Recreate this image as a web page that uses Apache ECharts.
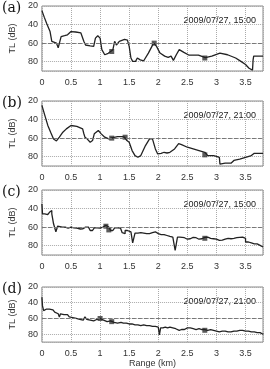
<!DOCTYPE html>
<html>
<head>
<meta charset="utf-8">
<script src="https://cdn.jsdelivr.net/npm/echarts@6/dist/echarts.min.js"></script>
<style>
html,body{margin:0;padding:0;background:#fff;}
#chart{width:270px;height:369px;}
</style>
</head>
<body>
<div id="chart"></div>
<script>
// 数据: [距离 km, TL dB]
var panelLabels = ['(a)', '(b)', '(c)', '(d)'];
var dateLabels = ['2009/07/27, 15:00', '2009/07/27, 21:00', '2009/07/27, 15:00', '2009/07/27, 21:00'];
var xTicks = [0, 0.5, 1, 1.5, 2, 2.5, 3, 3.5];
var yTicks = [20, 40, 60, 80];

var tlA = [[0,25],[0.04,32],[0.08,38.6],[0.14,47.5],[0.17,58],[0.19,60],[0.25,60],[0.28,65],[0.31,63.5],[0.33,53],[0.39,52],[0.44,51],[0.5,47.5],[0.58,48],[0.67,49],[0.69,51],[0.72,58],[0.75,62],[0.83,63],[0.89,63.5],[0.92,54.6],[0.96,52],[1.0,54.6],[1.03,67],[1.08,72.5],[1.14,71],[1.18,69],[1.22,67],[1.25,58],[1.28,62],[1.33,58],[1.42,56],[1.47,56.8],[1.5,63.5],[1.53,76],[1.56,79.6],[1.61,79.6],[1.64,76],[1.69,78],[1.75,79],[1.83,70.7],[1.92,60],[1.97,63.5],[2.03,70.7],[2.11,74],[2.17,75.4],[2.22,74],[2.26,78.6],[2.31,72.5],[2.36,67],[2.44,70],[2.53,73],[2.69,73],[2.81,75.7],[2.92,74],[3.06,70.7],[3.19,72.5],[3.33,76],[3.42,79.6],[3.5,83],[3.56,87],[3.58,89],[3.62,89],[3.63,78],[3.64,74],[3.8,74]];
var tlB = [[0,24.7],[0.05,35.5],[0.1,46],[0.15,53.6],[0.2,61],[0.25,63],[0.28,62.6],[0.3,59],[0.36,53.6],[0.42,50],[0.5,46.4],[0.6,47.4],[0.7,50],[0.72,55],[0.74,59],[0.78,61],[0.83,64.4],[0.87,62.6],[0.9,55.4],[0.97,51.8],[1.02,55.4],[1.08,59],[1.15,60.8],[1.2,59.7],[1.3,58.3],[1.38,58.3],[1.42,59],[1.46,62.6],[1.5,64.4],[1.55,73.4],[1.6,78.8],[1.65,80.6],[1.7,78.8],[1.78,68],[1.85,60.8],[1.9,60.8],[1.95,71.6],[1.99,77],[2.05,76.3],[2.1,75.2],[2.15,76],[2.2,75.2],[2.28,71.6],[2.35,66],[2.4,67],[2.5,69.8],[2.6,71.6],[2.7,73.4],[2.8,75.2],[2.85,78.8],[2.95,78.8],[3.0,79.6],[3.05,80.6],[3.06,88],[3.15,87],[3.25,87],[3.3,84],[3.4,82.5],[3.5,80.6],[3.6,78.8],[3.65,76.3],[3.8,76.3]];
var tlC = [[0,35],[0.01,45.7],[0.05,46.4],[0.1,46.4],[0.13,44],[0.15,42],[0.17,45.7],[0.2,56.4],[0.23,58],[0.24,65],[0.26,65],[0.27,59],[0.3,60],[0.35,60],[0.4,61],[0.45,60],[0.5,60.7],[0.55,61],[0.6,60],[0.63,62],[0.66,61.8],[0.7,60],[0.75,60],[0.8,61.8],[0.83,63.6],[0.87,63],[0.9,60.7],[0.95,61],[1.0,60],[1.05,58],[1.1,59],[1.13,60],[1.15,61.8],[1.18,63.6],[1.22,63],[1.25,60.7],[1.3,61],[1.35,61.8],[1.38,66],[1.4,67],[1.43,63.6],[1.47,64],[1.5,65],[1.53,66],[1.55,67],[1.56,77],[1.59,77],[1.6,66.4],[1.65,66],[1.7,66.4],[1.75,67],[1.8,67],[1.85,66],[1.9,65],[1.95,67],[2.0,68],[2.05,68],[2.1,69],[2.15,70],[2.2,70.7],[2.25,69],[2.28,70],[2.29,85],[2.32,85],[2.33,70.7],[2.37,72],[2.4,71.4],[2.45,73],[2.5,72.5],[2.55,71],[2.6,71.4],[2.65,73],[2.7,72.5],[2.75,71],[2.8,70.7],[2.85,72],[2.9,72.5],[2.95,73],[3.0,74.3],[3.05,74],[3.1,72.9],[3.15,72],[3.2,72.5],[3.25,72],[3.3,71.4],[3.35,71],[3.4,70.7],[3.45,70],[3.48,72],[3.5,76],[3.55,77],[3.6,78],[3.65,78],[3.7,79.6],[3.75,81.4],[3.8,80.7]];
var tlD = [[0,33],[0.01,44],[0.03,50],[0.05,48],[0.08,46],[0.1,48],[0.13,47],[0.16,49],[0.19,50],[0.22,52],[0.25,54],[0.28,55],[0.3,58],[0.32,54],[0.35,55],[0.38,56],[0.41,55],[0.44,57],[0.47,58],[0.5,59],[0.53,58],[0.56,60],[0.59,59],[0.62,61],[0.65,59],[0.68,62],[0.71,60],[0.74,58],[0.77,61],[0.8,62],[0.83,61],[0.86,63],[0.89,62],[0.92,61],[0.95,62],[0.98,60],[1.0,60],[1.03,62],[1.06,63],[1.09,64],[1.12,63],[1.15,63],[1.18,64],[1.21,65],[1.24,65],[1.27,66],[1.3,66],[1.33,65],[1.36,66],[1.4,66],[1.45,67],[1.5,67],[1.55,68],[1.6,68],[1.65,69],[1.7,68],[1.75,69],[1.8,69],[1.85,70],[1.9,70],[1.95,71],[2.0,71],[2.02,81],[2.04,72],[2.08,71],[2.12,72],[2.16,71],[2.2,72],[2.25,73],[2.3,74],[2.33,75],[2.36,74],[2.4,74],[2.45,72],[2.5,72],[2.55,73],[2.6,74],[2.65,73],[2.7,74],[2.75,74],[2.8,75],[2.85,74],[2.9,75],[2.95,76],[3.0,77],[3.05,76],[3.1,76],[3.15,77],[3.2,77],[3.25,76],[3.3,76],[3.35,75],[3.4,75],[3.45,76],[3.5,76],[3.55,77],[3.6,77],[3.65,78],[3.7,78],[3.75,80],[3.8,79]];
var panelData = [tlA, tlB, tlC, tlD];

// 接收点标记
var markA = [[1.2, 69], [1.93, 60], [2.8, 76]];
var markB = [[1.2, 60], [1.43, 59], [2.8, 78]];
var markC = [[1.1, 59], [1.15, 63], [2.8, 72]];
var markD = [[1.0, 60], [1.2, 64], [2.8, 75]];
var panelMarks = [markA, markB, markC, markD];

var gridTops = [6, 101, 190, 287];
var gridH = 65;

var myChart = echarts.init(document.getElementById('chart'));
var grids = [], xAxes = [], yAxes = [], series = [], graphics = [];

for (var i = 0; i < 4; i++) {
	grids.push({left: 35, top: gridTops[i], width: 228, height: gridH, show: true, borderColor: '#8a8a8a', borderWidth: 1});
	xAxes.push({
		type: 'value', gridIndex: i, min: 0, max: 3.8, interval: 0.5,
		axisLine: {show: false}, axisTick: {show: false},
		axisLabel: {fontSize: 9, color: '#333', margin: 7, fontFamily: 'Arial',
			formatter: function (v) { return xTicks.indexOf(v) >= 0 ? String(v) : ''; }},
		splitLine: {show: true, lineStyle: {color: '#aaa', type: 'dotted', width: 1}},
		name: i === 3 ? 'Range (km)' : '', nameLocation: 'middle', nameGap: 15,
		nameTextStyle: {fontSize: 9, color: '#333', fontFamily: 'Arial'}
	});
	yAxes.push({
		type: 'value', gridIndex: i, min: 20, max: 90, interval: 20, inverse: true,
		axisLine: {show: false}, axisTick: {show: false},
		axisLabel: {fontSize: 9, color: '#333', margin: 4, fontFamily: 'Arial',
			formatter: function (v) { return yTicks.indexOf(v) >= 0 ? String(v) : ''; }},
		splitLine: {show: true, lineStyle: {color: '#aaa', type: 'dotted', width: 1}},
		name: 'TL (dB)', nameLocation: 'middle', nameGap: 16,
		nameTextStyle: {fontSize: 9, color: '#333', fontFamily: 'Arial'}
	});
	series.push({
		type: 'line', xAxisIndex: i, yAxisIndex: i,
		data: panelData[i], showSymbol: false, silent: true,
		step: i >= 2 ? 'end' : false,
		lineStyle: {color: '#222', width: 1.3},
		markLine: {
			silent: true, symbol: 'none', label: {show: false},
			lineStyle: {color: '#777', type: 'dashed', width: 1},
			data: [{yAxis: 60}]
		}
	});
	series.push({
		type: 'scatter', xAxisIndex: i, yAxisIndex: i,
		data: panelMarks[i], symbol: 'rect', symbolSize: 5, silent: true,
		itemStyle: {color: '#333'}
	});
	graphics.push({
		type: 'text', left: 2, top: gridTops[i] - 5,
		style: {text: panelLabels[i], font: '14px "DejaVu Serif", serif', fill: '#111'}
	});
	graphics.push({
		type: 'text', right: 14, top: gridTops[i] + 10,
		style: {text: dateLabels[i], font: '9px Arial', fill: '#222'}
	});
}

var option = {
	animation: false,
	grid: grids,
	xAxis: xAxes,
	yAxis: yAxes,
	series: series,
	graphic: graphics
};
myChart.setOption(option, true);
</script>
</body>
</html>
